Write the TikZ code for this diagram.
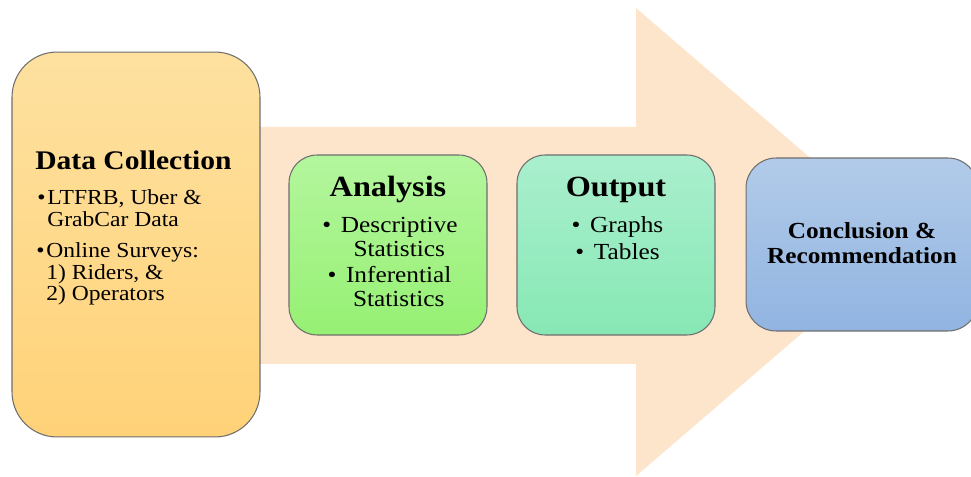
\documentclass[tikz,border=0pt]{standalone}
\usepackage{fontspec}
\setmainfont{Liberation Serif}[FakeStretch=1.1]
\usepackage{tikz}
\usetikzlibrary{positioning}
\definecolor{arrowpeach}{RGB}{253,229,203}
\definecolor{edgegray}{RGB}{110,110,110}
\definecolor{dctop}{RGB}{254,225,160}
\definecolor{dcbot}{RGB}{255,210,120}
\definecolor{anatop}{RGB}{180,246,158}
\definecolor{anabot}{RGB}{150,240,115}
\definecolor{outtop}{RGB}{170,239,206}
\definecolor{outbot}{RGB}{135,232,180}
\definecolor{conctop}{RGB}{178,203,233}
\definecolor{concbot}{RGB}{145,180,225}
\tikzset{
  stage/.style={rectangle, draw=edgegray, line width=0.6pt, inner sep=0pt},
  dcbox/.style={stage, top color=dctop, bottom color=dcbot,
    minimum width=4.96cm, minimum height=7.7cm, rounded corners=0.9cm},
  anabox/.style={stage, top color=anatop, bottom color=anabot,
    minimum width=3.96cm, minimum height=3.6cm, rounded corners=0.56cm},
  outbox/.style={stage, top color=outtop, bottom color=outbot,
    minimum width=3.96cm, minimum height=3.6cm, rounded corners=0.56cm},
  concbox/.style={stage, top color=conctop, bottom color=concbot,
    minimum width=4.64cm, minimum height=3.46cm, rounded corners=0.6cm}
}
% bullet with centred text, bullet with left text
\newcommand{\citem}[1]{\begin{tabular}[t]{@{}l@{\hspace{5.5pt}}c@{}}\textbullet & #1\end{tabular}}
\newcommand{\litem}[1]{\begin{tabular}[t]{@{}l@{\hspace{1pt}}l@{}}\textbullet & #1\end{tabular}}

\begin{document}
\begin{tikzpicture}[x=0.02cm, y=0.02cm,
  ttl/.style={inner sep=0pt, anchor=base, font=\bfseries\fontsize{16.7}{18}\selectfont},
  itm/.style={inner sep=0pt, anchor=base, font=\fontsize{13.1}{13.6}\selectfont}
]
\useasboundingbox (0,0) rectangle (971,477);
% big arrow behind the stages
\fill[arrowpeach] (150,113) -- (636,113) -- (636,1) -- (908,235)
  -- (636,469) -- (636,350) -- (150,350) -- cycle;
% stages
\node[dcbox] (dc) at (136,232.5) {};
\node[anabox] (ana) at (388,232) {};
\node[outbox] (out) at (616,232) {};
\node[concbox] (conc) at (862,232.5) {};
% Data Collection
\node[inner sep=0pt, anchor=base west, font=\bfseries\fontsize{15.3}{16}\selectfont]
  (dctitle) at (35,307) {Data Collection};
\node[inner sep=0pt, anchor=base west, font=\fontsize{12.2}{11.8}\selectfont]
  (dcdata) at (37,272) {\litem{LTFRB, Uber \&\\ & GrabCar Data}};
\node[inner sep=0pt, anchor=base west, font=\fontsize{12.2}{11.8}\selectfont]
  (dcsurvey) at (36,219) {\litem{Online Surveys:\\ & 1) Riders, \&\\ & 2) Operators}};
% Analysis
\node[ttl] (anatitle) at (388,280) {Analysis};
\node[itm] (anadesc) at (390,244) {\citem{Descriptive\\ & Statistics}};
\node[itm] (anainf) at (389.5,194) {\citem{Inferential\\ & Statistics}};
% Output
\node[ttl] (outtitle) at (616,280) {Output};
\node[itm] (outgraphs) at (617.5,244) {\citem{Graphs}};
\node[itm] (outtables) at (617.5,217) {\citem{Tables}};
% Conclusion
\node[inner sep=0pt, anchor=base, font=\bfseries\fontsize{13.1}{14.2}\selectfont]
  (conctext) at (862,238) {\begin{tabular}[t]{@{}c@{}}Conclusion \&\\ Recommendation\end{tabular}};
\end{tikzpicture}
\end{document}
